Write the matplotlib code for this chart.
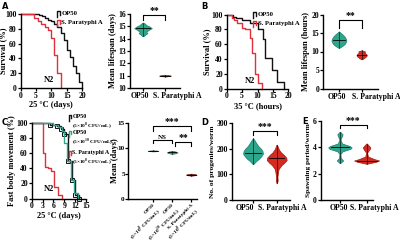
import numpy as np
import matplotlib
matplotlib.use('Agg')
import matplotlib.pyplot as plt

plt.rcParams['font.family'] = ['Liberation Serif', 'DejaVu Serif']
plt.rcParams['font.weight'] = 'bold'
plt.rcParams['axes.labelweight'] = 'bold'
plt.rcParams['mathtext.fontset'] = 'custom'
plt.rcParams['mathtext.rm'] = 'Liberation Serif:bold'
plt.rcParams['mathtext.bf'] = 'Liberation Serif:bold'

# couleurs
BLACK = '#111111'
RED = '#e0303c'
TEAL = '#2ea68e'
TEAL_E = '#1d7d69'
VRED = '#d42a22'
VRED_E = '#9a1a14'
BROWN = '#a23e26'

SP = 'S. Paratyphi A'

# ---- A : survie 25 C (jours)
a_op50_t = [0, 6, 7, 8, 9, 10, 11, 12, 13, 14, 15, 16, 17, 18, 19, 20]
a_op50_s = [100, 98, 97, 95, 92, 90, 87, 82, 75, 65, 52, 42, 30, 20, 8, 0]
a_sp_t = [0, 4.5, 5.5, 6.5, 8, 9, 10, 11, 12, 13]
a_sp_s = [100, 95, 90, 87, 82, 78, 68, 45, 20, 0]
a_mean_cats = ['OP50', SP]
a_op50_y = [14.2, 14.35, 14.45, 14.55, 14.7, 14.85, 15.0, 15.1, 15.2, 15.3]
a_op50_w = [0.02, 0.12, 0.2, 0.14, 0.25, 0.4, 0.28, 0.15, 0.1, 0.02]
a_sp_y = [10.93, 10.97, 11.0, 11.03, 11.07]
a_sp_w = [0.0, 0.2, 0.27, 0.2, 0.0]
a_med = [14.85, 11.0]

# ---- B : survie 35 C (heures)
b_op50_t = [0, 2, 3, 5, 7.6, 10.2, 11.8, 12.5, 14.8, 16.3, 18.5]
b_op50_s = [100, 97, 95, 92, 88, 80, 67, 41, 25, 9, 0]
b_sp_t = [0, 1.6, 2.5, 3.5, 5, 6, 7.6, 8.2, 9.2, 10.2, 11.5]
b_sp_s = [100, 95, 92, 88, 82, 80, 68, 48, 20, 8, 0]
b_op50_y = [11.0, 11.5, 12.0, 12.5, 13.0, 13.5, 14.0, 14.5, 15.0, 15.4]
b_op50_w = [0.02, 0.15, 0.25, 0.3, 0.33, 0.3, 0.25, 0.18, 0.08, 0.01]
b_sp_y = [7.9, 8.3, 8.7, 9.0, 9.3, 9.7, 10.0, 10.3]
b_sp_w = [0.02, 0.12, 0.2, 0.23, 0.2, 0.12, 0.15, 0.02]
b_med = [13.0, 9.0]

# ---- C : mouvement rapide
c_op8_t = [0, 5, 7, 8, 9, 10, 11, 12, 13]
c_op8_s = [100, 98, 96, 92, 85, 50, 25, 5, 0]
c_op10_t = [0, 6, 7.4, 8.3, 9, 9.7, 10.8, 11.8, 12.7]
c_op10_s = [100, 98, 95, 90, 73, 50, 25, 7, 0]
c_sp_t = [0, 3.1, 3.6, 4.5, 5.2, 6.2, 7.4, 8.3]
c_sp_s = [100, 60, 42, 40, 36, 15, 5, 0]
c_cats = ['OP50\n(5×10$^{8}$ CFU/mL)', 'OP50\n(5×10$^{10}$ CFU/mL)', SP + '\n(5×10$^{8}$ CFU/mL)']
c_mean = [9.5, 9.2, 4.8]
c_spread = [0.1, 0.3, 0.2]

# ---- D : descendance
d_op50_y = [140, 150, 160, 170, 180, 190, 200, 210, 220, 230, 240]
d_op50_w = [0.02, 0.12, 0.25, 0.35, 0.42, 0.4, 0.33, 0.22, 0.15, 0.08, 0.01]
d_sp_y = [65, 75, 90, 105, 120, 135, 145, 155, 165, 175, 185, 195, 205, 215]
d_sp_w = [0.01, 0.04, 0.03, 0.05, 0.08, 0.2, 0.32, 0.42, 0.4, 0.3, 0.18, 0.1, 0.05, 0.01]
d_med = [182, 162]

# ---- E : periode de ponte
e_op50_y = [2.8, 3.0, 3.2, 3.5, 3.7, 3.9, 4.0, 4.1, 4.3, 4.6, 4.8, 5.0, 5.2]
e_op50_w = [0.01, 0.12, 0.03, 0.02, 0.1, 0.4, 0.44, 0.38, 0.08, 0.02, 0.06, 0.1, 0.01]
e_sp_y = [2.75, 2.9, 3.0, 3.1, 3.3, 3.6, 3.9, 4.0, 4.1, 4.3]
e_sp_w = [0.01, 0.35, 0.47, 0.3, 0.05, 0.02, 0.12, 0.14, 0.1, 0.01]
e_med = [4.0, 3.0]

W, H = 400, 242
fig = plt.figure(figsize=(W / 100, H / 100), dpi=100)


def box(l, r, t, b):
    ax = fig.add_axes([l / W, 1 - b / H, (r - l) / W, (b - t) / H])
    for s in ['top', 'right']:
        ax.spines[s].set_visible(False)
    for s in ['left', 'bottom']:
        ax.spines[s].set_linewidth(1.0)
    ax.tick_params(labelsize=5.5, length=2, width=0.9, pad=0.8)
    return ax


def cat_labels(ax, pos_op50, pos_sp, dy):
    # etiquettes placees a la main (comme dans la figure d'origine)
    ax.set_xticklabels(['', ''])
    tr = ax.transAxes
    ax.text(pos_op50, -dy, a_mean_cats[0], transform=tr, ha='center', va='top', fontsize=5.6)
    ax.text(pos_sp, -dy, a_mean_cats[1], transform=tr, ha='left', va='top', fontsize=5.6)


def violin(ax, x, ys, ws, fc, ec, med):
    ys = np.array(ys)
    ws = np.array(ws)
    ax.fill_betweenx(ys, x - ws, x + ws, color=fc, ec=ec, lw=0.5, clip_on=False, zorder=3)
    ax.plot([x, x], [ys.min(), ys.max()], color='k', lw=0.4, zorder=4, clip_on=False)
    wm = np.interp(med, ys, ws)
    ax.plot([x - wm * 0.8, x + wm * 0.8], [med, med], color='k', lw=0.6, zorder=4, clip_on=False)


def bracket(ax, x0, x1, y, drop, txt, fs=7):
    ax.plot([x0, x0, x1, x1], [y - drop, y, y, y - drop], color='k', lw=0.8, clip_on=False)
    ax.text((x0 + x1) / 2, y, txt, ha='center', va='bottom', fontsize=fs, clip_on=False)


def legend_icon(ax, x, y, color):
    ax.plot([x, x, x + 0.04, x + 0.04], [y - 0.05, y + 0.03, y + 0.03, y - 0.02],
            color=color, lw=1.0, transform=ax.transAxes, clip_on=False)


def panel_label(x, y, s):
    fig.text(x / W, 1 - y / H, s, fontsize=6, family='DejaVu Sans', fontweight='bold', va='top')


# ---------- A
ax = box(20.7, 82, 14, 88)
ax.step(a_op50_t, a_op50_s, where='post', color=BLACK, lw=1.0, clip_on=False)
ax.step(a_sp_t, a_sp_s, where='post', color=RED, lw=1.0, clip_on=False)
ax.set_xlim(0, 20)
ax.set_ylim(0, 100)
ax.set_xticks([0, 5, 10, 15, 20])
ax.set_yticks([0, 20, 40, 60, 80, 100])
ax.set_xlabel('25 °C (days)', fontsize=6, labelpad=1)
ax.set_ylabel('Survival (%)', fontsize=6)
ax.yaxis.set_label_coords(-0.215, 0.5)
ax.text(0.38, 0.08, 'N2', transform=ax.transAxes, fontsize=6)
legend_icon(ax, 0.6, 1.01, BLACK)
ax.text(0.66, 1.01, 'OP50', transform=ax.transAxes, fontsize=4.8, va='center')
legend_icon(ax, 0.6, 0.89, RED)
ax.text(0.66, 0.89, SP, transform=ax.transAxes, fontsize=4.8, va='center')

ax = box(130, 180, 14, 88)
violin(ax, 0, a_op50_y, a_op50_w, TEAL, TEAL_E, a_med[0])
violin(ax, 1, a_sp_y, a_sp_w, BROWN, '#6e2414', a_med[1])
ax.set_xlim(-0.59, 1.68)
ax.set_ylim(10, 16)
ax.set_yticks(range(10, 17))
ax.set_xticks([0, 1])
cat_labels(ax, 0.2, 0.46, 0.06)
ax.set_ylabel('Mean lifespan (days)', fontsize=6, labelpad=1)
bracket(ax, 0, 1, 15.95, 0.4, '**')

# ---------- B
ax = box(226.7, 288.3, 14.5, 88.5)
ax.step(b_op50_t, b_op50_s, where='post', color=BLACK, lw=1.0, clip_on=False)
ax.step(b_sp_t, b_sp_s, where='post', color=RED, lw=1.0, clip_on=False)
ax.set_xlim(0, 20)
ax.set_ylim(0, 100)
ax.set_xticks([0, 5, 10, 15, 20])
ax.set_yticks([0, 20, 40, 60, 80, 100])
ax.set_xlabel('35 °C (hours)', fontsize=6, labelpad=1)
ax.set_ylabel('Survival (%)', fontsize=6, labelpad=0)
ax.text(0.3, 0.08, 'N2', transform=ax.transAxes, fontsize=6)
legend_icon(ax, 0.43, 1.0, BLACK)
ax.text(0.5, 1.0, 'OP50', transform=ax.transAxes, fontsize=4.8, va='center')
legend_icon(ax, 0.43, 0.88, RED)
ax.text(0.5, 0.88, SP, transform=ax.transAxes, fontsize=4.8, va='center')

ax = box(323, 378, 14.5, 88.5)
violin(ax, 0, b_op50_y, b_op50_w, TEAL, TEAL_E, b_med[0])
violin(ax, 1, b_sp_y, b_sp_w, VRED, VRED_E, b_med[1])
ax.set_xlim(-0.7, 1.72)
ax.set_ylim(0, 20)
ax.set_yticks([0, 5, 10, 15, 20])
ax.set_xticks([0, 1])
cat_labels(ax, 0.245, 0.53, 0.06)
ax.set_ylabel('Mean lifespan (hours)', fontsize=6, labelpad=1)
bracket(ax, 0, 1, 18.5, 2.2, '**')

# ---------- C
ax = box(31.7, 86, 123, 198.5)
ax.step(c_sp_t, c_sp_s, where='post', color=RED, lw=1.0, clip_on=False)
ax.step(c_op8_t, c_op8_s, where='post', color=BLACK, lw=1.0, clip_on=False)
ax.plot(c_op8_t[1:], c_op8_s[1:], 's', ms=2.5, mfc='none', mec=BLACK, mew=0.7, clip_on=False)
ax.step(c_op10_t, c_op10_s, where='post', color=TEAL, lw=1.0, clip_on=False)
ax.set_xlim(0, 15)
ax.set_ylim(0, 100)
ax.set_xticks([0, 3, 6, 9, 12, 15])
ax.set_yticks([0, 20, 40, 60, 80, 100])
ax.set_xlabel('25 °C (days)', fontsize=6, labelpad=1)
ax.set_ylabel('Fast body movement (%)', fontsize=6, labelpad=0)
ax.text(0.22, 0.1, 'N2', transform=ax.transAxes, fontsize=6)
legend_icon(ax, 0.68, 1.08, BLACK)
ax.text(0.75, 1.083, 'OP50', transform=ax.transAxes, fontsize=4.3, va='center')
ax.text(0.75, 0.965, '(5×10$^{8}$ CFU/mL)', transform=ax.transAxes, fontsize=3.8, va='center')
legend_icon(ax, 0.68, 0.87, TEAL)
ax.text(0.75, 0.87, 'OP50', transform=ax.transAxes, fontsize=4.3, va='center')
ax.text(0.75, 0.76, '(5×10$^{10}$ CFU/mL)', transform=ax.transAxes, fontsize=3.8, va='center')
legend_icon(ax, 0.68, 0.6, RED)
ax.text(0.75, 0.615, SP, transform=ax.transAxes, fontsize=4.3, va='center')
ax.text(0.75, 0.495, '(5×10$^{8}$ CFU/mL)', transform=ax.transAxes, fontsize=3.8, va='center')

ax = box(128.3, 197, 123, 199)
ax.tick_params(axis='y', labelsize=5.2, pad=0.5)
c_cols = [('#3d6f66', '#27473f'), (TEAL, TEAL_E), ('#8e2a1e', '#5a170f')]
for i, (m, sp) in enumerate(zip(c_mean, c_spread)):
    violin(ax, i, [m - sp, m - sp / 2, m, m + sp / 2, m + sp], [0, 0.2, 0.28, 0.2, 0],
           c_cols[i][0], c_cols[i][1], m)
ax.set_xlim(-1.3, 2.3)
ax.set_ylim(0, 15)
ax.set_yticks([0, 5, 10, 15])
ax.set_xticks([0, 1, 2])
ax.set_xticklabels(c_cats, fontsize=3.9, rotation=45, ha='right', rotation_mode='anchor', linespacing=1.0)
ax.set_ylabel('Mean (days)', fontsize=6)
ax.yaxis.set_label_coords(-0.135, 0.5)
bracket(ax, 0, 2, 14.35, 0.85, '***')
bracket(ax, 0, 1, 11.7, 0.65, 'NS', fs=5)
bracket(ax, 1.15, 2, 11.25, 0.75, '**')

# ---------- D
ax = box(231.7, 290, 123, 199.7)
violin(ax, 0, d_op50_y, d_op50_w, TEAL, TEAL_E, d_med[0])
violin(ax, 1, d_sp_y, d_sp_w, VRED, VRED_E, d_med[1])
ax.set_xlim(-0.9, 1.56)
ax.set_ylim(0, 300)
ax.set_yticks([0, 100, 200, 300])
ax.set_xticks([0, 1])
cat_labels(ax, 0.228, 0.45, 0.06)
ax.set_ylabel('No. of progenies/worm', fontsize=5.4, labelpad=1)
bracket(ax, 0, 1, 270, 16, '***')

# ---------- E
ax = box(320.5, 373, 121.3, 199.7)
violin(ax, 0, e_op50_y, e_op50_w, TEAL, TEAL_E, e_med[0])
violin(ax, 1, e_sp_y, e_sp_w, VRED, VRED_E, e_med[1])
ax.set_xlim(-0.73, 1.24)
ax.set_ylim(0, 6)
ax.set_yticks([0, 2, 4, 6])
ax.set_xticks([0, 1])
cat_labels(ax, 0.34, 0.56, 0.06)
ax.set_ylabel('Spawning period/worm', fontsize=5.3, labelpad=1)
bracket(ax, 0, 1, 5.74, 0.26, '***')

panel_label(2, 2, 'A')
panel_label(201, 2, 'B')
panel_label(2, 118, 'C')
panel_label(201, 118, 'D')
panel_label(302, 117, 'E')

fig.savefig('out.png', dpi=100)
